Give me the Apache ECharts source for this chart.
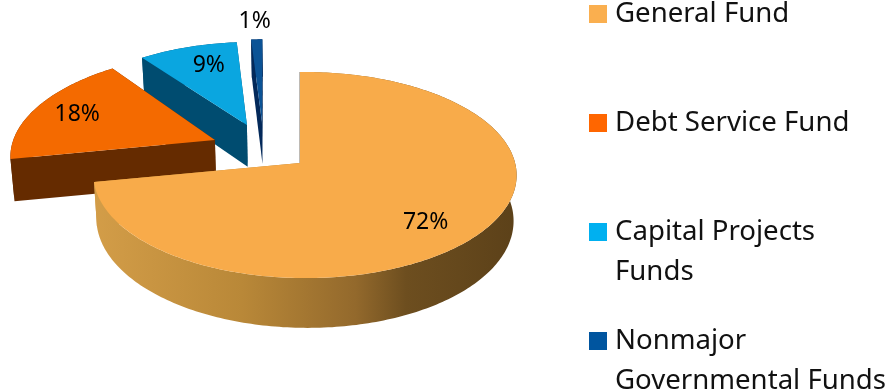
<!DOCTYPE html>
<html>
<head>
<meta charset="utf-8">
<style>html,body{margin:0;padding:0;background:#fff}#chart{width:890px;height:392px}</style>
<script src="https://cdn.jsdelivr.net/npm/echarts@6/dist/echarts.min.js"></script>
</head>
<body>
<div id="chart"></div>
<script>
// Fund shares, percent of total, clockwise from twelve o'clock
const categories = ['General Fund', 'Debt Service Fund', 'Capital Projects Funds', 'Nonmajor Governmental Funds'];
const shares = [72, 18, 9, 1];

// Legend wording split over lines
const legendLines = [['General Fund'], ['Debt Service Fund'], ['Capital Projects', 'Funds'], ['Nonmajor', 'Governmental Funds']];

// Slice styling, pull-out in disc units and percent label placement
const topColors = ['#F8AB4A', '#F46A00', '#0AA6E0', '#0B5396'];
const wallColors = ['#A87832', '#652B00', '#004C70', '#03295A'];
const legendColors = ['#FAAF4F', '#FF6600', '#00B0F0', '#00559F'];
const pullU = [0, -0.4205, -0.266, -0.191];
const pullV = [0, -0.235, -0.393, -0.426];
const backLean = [0, 0, 5, 4];
const sliceScale = [1, 1.03, 1, 1];
const labelReach = [0.77, 0.79, 0.75, 1.27];
const labelTurn = [4.5, 0, 2, -1.3];
const legendCentres = [14, 123, 232, 341];

// Perspective projection of the pie's disc
const view = { cx: 300, cy: 163, rx: 210, ry: 101.6, p: 0.1166, q: 0.0237, depth: 44, vanishX: 300, shrink: 0.986 };
const mainWallGradient = {
  type: 'linear', global: true, x: 94, y: 0, x2: 516, y2: 0,
  colorStops: [
    { offset: 0, color: '#D39D48' },
    { offset: 0.35, color: '#B98838' },
    { offset: 0.62, color: '#93692C' },
    { offset: 0.74, color: '#6D4E1F' },
    { offset: 1, color: '#5C4119' }
  ]
};

function project(u, v, lowered) {
  const w = 1 - view.p * v - view.q * u;
  let x = view.cx + view.rx * u / w;
  let y = view.cy + view.ry * v / w;
  if (lowered) {
    x = view.vanishX + (x - view.vanishX) * view.shrink;
    y += view.depth / w;
  }
  return [x, y];
}

const total = shares.reduce((a, b) => a + b, 0);

function sliceRenderer(index) {
  return function (params, api) {
    const value = api.value(0);
    const before = shares.slice(0, index).reduce((a, b) => a + b, 0);
    const a0 = before / total * 2 * Math.PI;
    const a1 = a0 + value / total * 2 * Math.PI;
    const ou = pullU[index], ov = pullV[index];
    const lean = backLean[index] / view.rx;
    const scale = sliceScale[index];
    // Rim point at bearing a; the far rim of a leaning slice drifts to the left
    const onRim = a => [ou + scale * Math.sin(a) - lean * Math.cos(a), ov - scale * Math.cos(a)];
    const pt = (uv, low) => api.coord(project(uv[0], uv[1], low));

    const steps = Math.max(6, Math.round((a1 - a0) * 180 / Math.PI));
    const rimTop = [], rimLow = [];
    for (let i = 0; i <= steps; i++) {
      const uv = onRim(a0 + (a1 - a0) * i / steps);
      rimTop.push(pt(uv, false));
      rimLow.push(pt(uv, true));
    }
    const apex = [ou, ov];
    const children = [];

    // Outer wall, shaded left to right on the large slice
    const wallFill = index === 0 ? mainWallGradient : wallColors[index];
    children.push({
      type: 'polygon',
      shape: { points: rimTop.concat(rimLow.slice().reverse()) },
      style: { fill: wallFill }
    });

    // Radial walls, the one further back first
    const edges = [a0, a1].map(onRim).sort((m, n) => m[1] - n[1]);
    edges.forEach(e => {
      children.push({
        type: 'polygon',
        shape: { points: [pt(e, false), pt(apex, false), pt(apex, true), pt(e, true)] },
        style: index === 0 && e === edges[0]
          ? { fill: '#A8A29A', stroke: '#A8A29A', lineWidth: 1 }
          : { fill: wallFill }
      });
    });

    // Top face
    children.push({
      type: 'polygon',
      shape: { points: [pt(apex, false)].concat(rimTop) },
      style: { fill: topColors[index] }
    });

    // Percent label placed from the slice's middle angle
    const mid = (a0 + a1) / 2 + labelTurn[index] * Math.PI / 180, reach = labelReach[index];
    const lp = pt([ou + reach * Math.sin(mid), ov - reach * Math.cos(mid)], false);
    children.push({
      type: 'text',
      style: {
        x: lp[0], y: lp[1] + 1, text: value + '%', fill: '#000',
        font: '23px "Noto Sans"', align: 'center', verticalAlign: 'middle'
      }
    });
    return { type: 'group', children };
  };
}

// Painted back to front, so the large slice ends up on top
const drawOrder = [3, 2, 1, 0];
const series = drawOrder.map(i => ({
  type: 'custom',
  name: categories[i],
  coordinateSystem: 'cartesian2d',
  clip: false,
  silent: true,
  itemStyle: { color: legendColors[i] },
  renderItem: sliceRenderer(i),
  data: [[shares[i], 0]]
}));

const legendLineHeight = 40;
const legend = categories.map((name, i) => {
  const lines = legendLines[i];
  // A blank line above keeps the first line level with the swatch on two-line entries
  const text = lines.length > 1 ? '\n' + lines.join('\n') : lines[0];
  const boxHeight = lines.length > 1 ? legendLineHeight * 3 : legendLineHeight;
  return {
    data: [name],
    left: 589,
    top: legendCentres[i] - boxHeight / 2,
    padding: 0,
    orient: 'vertical',
    selectedMode: false,
    icon: 'rect',
    itemWidth: 18,
    itemHeight: 18,
    itemGap: 0,
    formatter: () => text,
    textStyle: { fontFamily: 'Noto Sans', fontSize: 27.6, color: '#111', lineHeight: legendLineHeight, padding: [0, 0, 0, 3] }
  };
});

const chart = echarts.init(document.getElementById('chart'), null, { renderer: 'canvas' });
chart.setOption({
  animation: false,
  backgroundColor: '#fff',
  grid: { left: 0, right: 0, top: 0, bottom: 0 },
  xAxis: { type: 'value', min: 0, max: 890, show: false },
  yAxis: { type: 'value', min: 0, max: 392, inverse: true, show: false },
  legend,
  series
});
</script>
</body>
</html>
